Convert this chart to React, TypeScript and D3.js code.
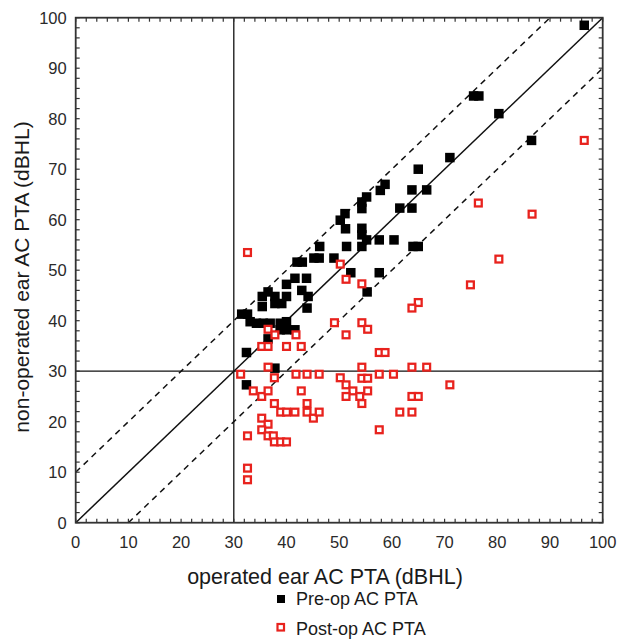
import React from 'react';
import * as d3 from 'd3';

// operated ear (x) vs non-operated ear (y), dBHL
const preOp: [number, number][] = [
  [96.5, 98.5], [75.5, 84.5], [76.5, 84.5], [80.3, 81], [86.5, 75.7], [71, 72.3], [65, 70],
  [57.8, 65.8], [58.7, 67], [63.8, 65.9], [66.6, 65.9],
  [55.2, 64.5], [54.3, 63.5], [54.3, 62.2], [61.5, 62.3], [63.8, 62.3],
  [51.1, 61.2], [50.2, 59.9], [51.2, 58.2], [54.3, 58.3], [54.3, 57], [55.2, 56], [57.6, 56], [60.4, 56],
  [46.3, 54.7], [51.4, 54.7], [54.3, 54.7], [64, 54.7], [65, 54.7],
  [45.2, 52.4], [46.2, 52.4], [49, 52.4],
  [42, 51.6], [43, 51.6], [52.2, 49.5], [57.6, 49.5],
  [41.6, 48.4], [43.8, 48.4], [40, 47.2], [42.9, 46], [44.1, 44.8], [55.3, 45.7],
  [36.5, 45.7], [35.4, 44.8], [37.8, 44.8], [40, 44.8], [35.4, 42.8], [37.8, 43.4], [39.1, 43.4], [43.9, 42.5],
  [31.5, 41.3], [32.6, 41.3], [33.1, 39.8], [34.3, 39.5], [35.6, 39.5], [36.9, 39.5], [38.8, 39.5],
  [40, 39.8], [38.8, 38.2], [40, 38.2], [41.6, 38.2],
  [36.5, 36.4], [32.4, 33.7], [37.8, 30.6], [32.4, 27.3],
];

const postOp: [number, number][] = [
  [96.5, 75.7], [76.4, 63.3], [86.6, 61.1], [80.3, 52.2], [74.9, 47.1],
  [32.6, 53.5], [50.2, 51.2], [51.3, 48.2], [54.3, 47.3],
  [65, 43.6], [63.8, 42.5], [49.1, 39.6], [54.3, 39.6], [55.4, 38.3], [51.3, 37.2],
  [36.5, 38.3], [37.8, 37.2], [41.8, 37.2], [35.3, 34.9], [36.5, 34.9], [40, 34.9], [42.8, 34.9],
  [57.6, 33.7], [58.7, 33.7], [36.5, 30.8], [31.3, 29.4], [37.7, 28.7],
  [41.8, 29.4], [43.9, 29.4], [46.2, 29.4], [54.3, 30.8], [57.6, 29.4], [60.3, 29.4],
  [63.8, 30.8], [66.6, 30.8], [71, 27.3], [50.2, 28.7], [51.3, 27.3], [54.3, 28.6], [55.4, 28.6],
  [52.6, 26.1], [51.3, 25], [53.9, 25], [55.4, 26.1], [54.3, 23.6], [63.8, 25], [65, 25],
  [33.7, 26.1], [35.3, 25], [36.5, 26.1], [42.8, 26.1],
  [37.7, 23.6], [38.9, 21.9], [40, 21.9], [41.6, 21.9],
  [43.9, 23.6], [43.9, 21.9], [45.1, 20.7], [46.2, 21.9], [61.5, 21.9], [63.8, 21.9],
  [35.3, 20.7], [36.5, 19.5], [35.3, 18.4], [36.5, 17.2], [37.5, 17.2], [37.7, 16], [38.9, 16], [40, 16],
  [57.6, 18.4], [32.6, 17.2], [32.6, 10.8], [32.6, 8.5],
];

const tickValues = d3.range(0, 101, 10);
const minorTicks = d3.range(0, 101, 2);
const xTitle = 'operated ear AC PTA (dBHL)';
const yTitle = 'non-operated ear AC PTA (dBHL)';
const legendNames = ['Pre-op AC PTA', 'Post-op AC PTA'];

export default function App() {
  const x = d3.scaleLinear().domain([0, 100]).range([75.7, 602.7]);
  const y = d3.scaleLinear().domain([0, 100]).range([522.7, 17.7]);
  const line = d3.line<[number, number]>().x(d => x(d[0])).y(d => y(d[1]));
  const font = 'Liberation Sans, Arial, Helvetica, sans-serif';
  const red = '#e8221d';
  const s = 9.5;

  return (
    <svg width={630} height={641} style={{ position: 'absolute', left: 0, top: 0, background: '#fff' }} fontFamily={font}>
      {/* reference lines */}
      <path d={line([[30, 0], [30, 100]])!} stroke="#111" strokeWidth={1.3} fill="none" />
      <path d={line([[0, 30], [100, 30]])!} stroke="#111" strokeWidth={1.3} fill="none" />
      <path d={line([[0, 0], [100, 100]])!} stroke="#111" strokeWidth={1.5} fill="none" />
      <path d={line([[0, 10], [90, 100]])!} stroke="#111" strokeWidth={1.5} strokeDasharray="6,5" fill="none" />
      <path d={line([[10, 0], [100, 90]])!} stroke="#111" strokeWidth={1.5} strokeDasharray="6,5" fill="none" />

      {/* frame and inward ticks */}
      <rect x={x(0)} y={y(100)} width={x(100) - x(0)} height={y(0) - y(100)} fill="none" stroke="#333" strokeWidth={1.8} />
      {minorTicks.map(t => (
        <g key={t} stroke="#333" strokeWidth={1.2}>
          <line x1={x(t)} x2={x(t)} y1={y(0)} y2={y(0) - 4} />
          <line x1={x(t)} x2={x(t)} y1={y(100)} y2={y(100) + 4} />
          <line y1={y(t)} y2={y(t)} x1={x(0)} x2={x(0) + 4} />
          <line y1={y(t)} y2={y(t)} x1={x(100)} x2={x(100) - 4} />
        </g>
      ))}
      {tickValues.map(t => (
        <g key={t} fill="#2a2a2a" fontSize={16.5}>
          <text x={x(t)} y={y(0) + 25} textAnchor="middle">{t}</text>
          <text x={x(0) - 9} y={y(t) + 6} textAnchor="end">{t}</text>
        </g>
      ))}

      {/* points */}
      {preOp.map((d, i) => (
        <rect key={'a' + i} x={x(d[0]) - s / 2} y={y(d[1]) - s / 2} width={s} height={s} fill="#000" />
      ))}
      {postOp.map((d, i) => (
        <rect key={'b' + i} x={x(d[0]) - 3.4} y={y(d[1]) - 3.4} width={6.8} height={6.8} fill="#fff" stroke={red} strokeWidth={2.3} />
      ))}

      {/* titles */}
      <text x={325} y={584} textAnchor="middle" fontSize={21.5} fill="#1a1a1a">{xTitle}</text>
      <text transform={`translate(29,277) rotate(-90)`} textAnchor="middle" fontSize={21} fill="#1a1a1a">{yTitle}</text>

      {/* legend */}
      <rect x={277} y={595} width={8} height={8} fill="#000" />
      <text x={296} y={605} fontSize={18} fill="#1a1a1a">{legendNames[0]}</text>
      <rect x={277.5} y={624} width={6.5} height={6.5} fill="#fff" stroke={red} strokeWidth={2.2} />
      <text x={296} y={635} fontSize={18} fill="#1a1a1a">{legendNames[1]}</text>
    </svg>
  );
}
